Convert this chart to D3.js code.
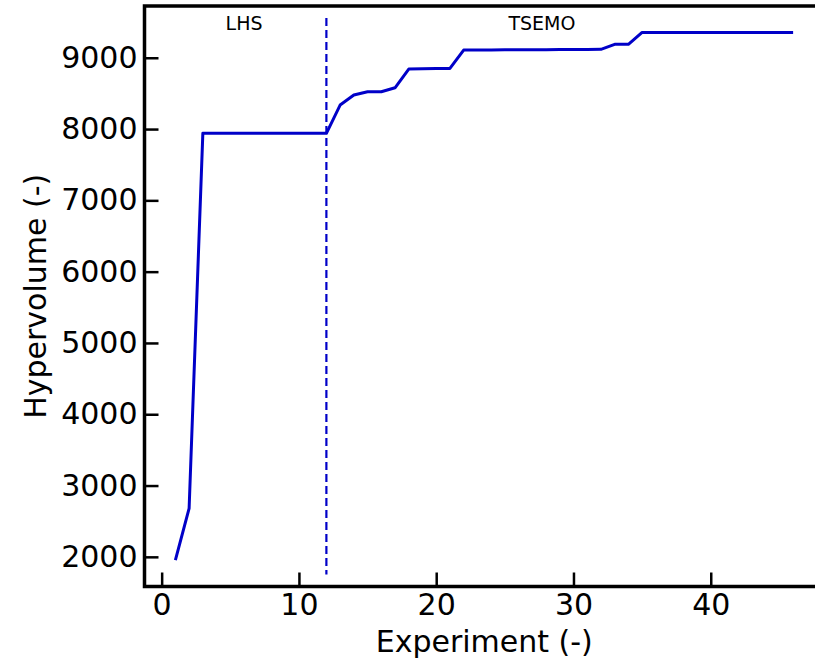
<!DOCTYPE html>
<html>
<head>
<meta charset="utf-8">
<script src="https://cdn.jsdelivr.net/npm/d3@7"></script>
<style>
  body { margin: 0; background: #fff; }
  svg { font-family: "DejaVu Sans", sans-serif; }
</style>
</head>
<body>
<div class="chart"></div>
<script>
// data
var experiments = d3.range(1, 47);
var hypervolume = [
  1954, 2679, 7940, 7940, 7940, 7940, 7940, 7940, 7940, 7940,
  7940, 7940, 8337, 8477, 8523, 8523, 8579, 8841, 8845, 8848,
  8851, 9108, 9109, 9110, 9111, 9112, 9113, 9114, 9115, 9116,
  9117, 9118, 9188, 9188, 9356, 9356, 9356, 9356, 9356, 9356,
  9356, 9356, 9356, 9356, 9356, 9356
];
var xTicks = [0, 10, 20, 30, 40];
var yTicks = [2000, 3000, 4000, 5000, 6000, 7000, 8000, 9000];
var splitAt = 12;
var phaseLabels = [{ text: 'LHS', x: 6 }, { text: 'TSEMO', x: 27.7 }];

var width = 815, height = 662;
var plotLeft = 144.5, plotRight = 824, plotTop = 6, plotBottom = 586.5;
var lineColor = '#0000c8';

var svg = d3.select('.chart').append('svg')
            .attr('width', width)
            .attr('height', height);

var x = d3.scaleLinear().domain([-1.25, 48.25]).range([plotLeft, plotRight]);
var y = d3.scaleLinear().domain([1584, 9726]).range([plotBottom, plotTop]);

var points = experiments.map(function(e, i) { return [e, hypervolume[i]]; });

// curve
svg.append('path')
   .datum(points)
   .attr('fill', 'none')
   .attr('stroke', lineColor)
   .attr('stroke-width', 3)
   .attr('stroke-linejoin', 'round')
   .attr('d', d3.line()
                .x(function(d) { return x(d[0]); })
                .y(function(d) { return y(d[1]); }));

// LHS / TSEMO split
svg.append('line')
   .attr('x1', x(splitAt)).attr('x2', x(splitAt))
   .attr('y1', plotTop + 12).attr('y2', plotBottom - 12)
   .attr('stroke', lineColor)
   .attr('stroke-width', 2.2)
   .attr('stroke-dasharray', '8,4');

svg.selectAll('.phase')
   .data(phaseLabels)
   .enter()
   .append('text')
   .attr('class', 'phase')
   .attr('x', function(d) { return x(d.x); })
   .attr('y', 30)
   .attr('text-anchor', 'middle')
   .attr('font-size', 19)
   .text(function(d) { return d.text; });

// axes
var xAxis = d3.axisBottom(x).tickValues(xTicks).tickFormat(d3.format('d'))
              .tickSizeInner(-14).tickSizeOuter(0).tickPadding(22);
var yAxis = d3.axisLeft(y).tickValues(yTicks).tickFormat(d3.format('d'))
              .tickSizeInner(-14).tickSizeOuter(0).tickPadding(22);

var gx = svg.append('g').attr('transform', 'translate(0,' + plotBottom + ')').call(xAxis);
var gy = svg.append('g').attr('transform', 'translate(' + plotLeft + ',0)').call(yAxis);

[gx, gy].forEach(function(g) {
  g.attr('font-family', null).attr('font-size', null);
  g.select('.domain').remove();
  g.selectAll('.tick line').attr('stroke', '#000').attr('stroke-width', 2.5);
  g.selectAll('.tick text').attr('font-size', 30).attr('fill', '#000');
});
gx.selectAll('.tick text').attr('dy', '0.71em').attr('y', 7);
gy.selectAll('.tick text').attr('x', -7);

// frame
svg.append('rect')
   .attr('x', plotLeft).attr('y', plotTop)
   .attr('width', plotRight - plotLeft).attr('height', plotBottom - plotTop)
   .attr('fill', 'none')
   .attr('stroke', '#000')
   .attr('stroke-width', 3.5);

// axis titles
svg.append('text')
   .attr('x', (plotLeft + plotRight) / 2)
   .attr('y', 652)
   .attr('text-anchor', 'middle')
   .attr('font-size', 30)
   .text('Experiment (-)');

svg.append('text')
   .attr('transform', 'translate(46,' + (plotTop + plotBottom) / 2 + ') rotate(-90)')
   .attr('text-anchor', 'middle')
   .attr('font-size', 30)
   .text('Hypervolume (-)');
</script>
</body>
</html>
